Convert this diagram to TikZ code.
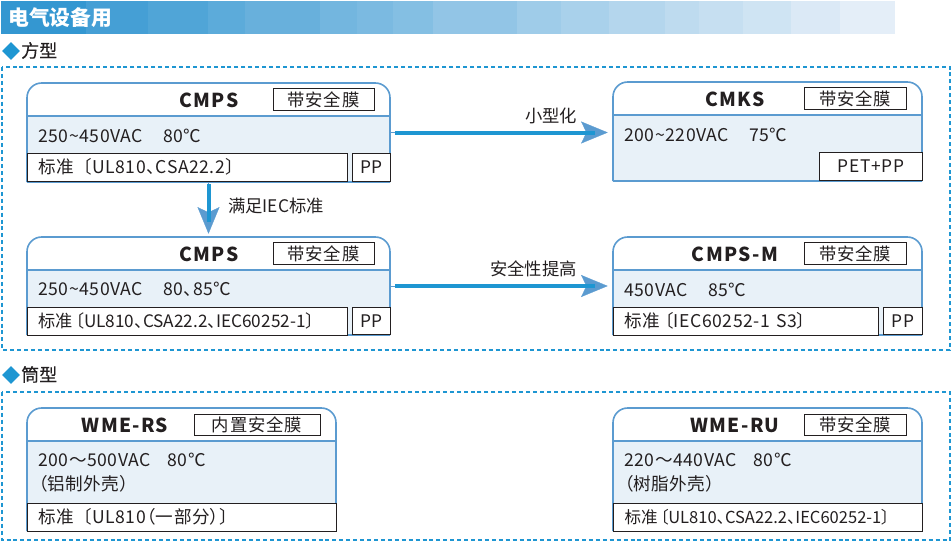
\documentclass[tikz,border=0pt]{standalone}
\usepackage{fontspec}
\setmainfont{Noto Sans CJK SC}
\newfontfamily\titlefont[LetterSpace=7]{Noto Sans CJK SC}
\newfontfamily\tagfont[LetterSpace=5]{Noto Sans CJK SC}
\newfontfamily\bodyfont[RawFeature=+palt,LetterSpace=3]{Noto Sans CJK SC}
\newfontfamily\tightfont[RawFeature=+palt]{Noto Sans CJK SC}
\newfontfamily\sectionfont[FakeBold=0.4]{Noto Sans CJK SC}
\usetikzlibrary{arrows.meta,positioning,fit,shapes.geometric}
\definecolor{bandblue}{HTML}{2A92CF}
\definecolor{bandpale}{HTML}{EAF1F9}
\definecolor{framecol}{HTML}{1E96D2}
\definecolor{cardcol}{HTML}{5B9BD0}
\definecolor{bodycol}{HTML}{E8F1F8}
\definecolor{inkcol}{HTML}{231F20}
\tikzstyle{frame} = [framecol, line width=1.1pt, dash pattern=on 3pt off 2.2pt]
\tikzstyle{cardfit} = [inner sep=0pt]
\tikzstyle{cardline} = [cardcol, line width=1.2pt]
\tikzstyle{sectionmark} = [diamond, fill=framecol, inner sep=0pt, minimum width=13.5pt, minimum height=13.5pt]
\tikzstyle{section} = [text=inkcol, font=\fontsize{13.5}{15}\sectionfont, anchor=west, inner sep=0pt]
\tikzstyle{model} = [text=inkcol, font=\fontsize{14.4}{16}\titlefont\bfseries, inner sep=0pt]
\tikzstyle{tagbox} = [draw=inkcol, fill=white, line width=0.75pt, text=inkcol, inner sep=0pt, minimum height=16pt, font=\fontsize{13}{15}\tagfont]
\tikzstyle{rating} = [text=inkcol, font=\fontsize{13.2}{18}\bodyfont, anchor=west, inner sep=0pt, align=left]
\tikzstyle{stdbox} = [draw=inkcol, fill=white, line width=0.75pt, text=inkcol, anchor=west, inner ysep=0pt, inner xsep=8.25pt, text height=11.5pt, text depth=2pt, minimum height=21pt, align=left, font=\fontsize{13.2}{15}\bodyfont]
\tikzstyle{matbox} = [draw=inkcol, fill=white, line width=0.75pt, text=inkcol, anchor=west, inner sep=0pt, minimum height=20.5pt, font=\fontsize{13}{15}\tagfont]
\tikzstyle{flowhead} = [-{Stealth[length=20pt, width=16.5pt, inset=4pt, cardcol]}, cardcol, line width=0.2pt]
\tikzstyle{flowline} = [framecol, line width=3pt]
\tikzstyle{flowlabel} = [text=inkcol, font=\fontsize{13}{15}\selectfont, inner sep=0pt]
\begin{document}
\begin{tikzpicture}[x=0.75pt, y=-0.75pt]

	\useasboundingbox (0,0) rectangle (952,543);

	\foreach \xa/\xb in {1/86,86/148,148/208,208/245,245/320,320/357,357/393,393/433,433/517,517/561,561/609,609/665,665/699,699/743,743/791,791/840,840/895}{
		\pgfmathtruncatemacro{\pct}{100*(1-0.5*(\xa+\xb)/895)}
		\fill[bandblue!\pct!bandpale] (\xa,1) rectangle (\xb,34);
	}
	\node[white, font=\fontsize{15.6}{17}\selectfont\bfseries, anchor=west, inner sep=0pt] (bandtitle) at (8,17.5) {电气设备用};

	\node[sectionmark] (markA) at (11,51) {};
	\node[section] (sectionA) at (21,50.5) {方型};
	\node[sectionmark] (markB) at (11,375) {};
	\node[section] (sectionB) at (21,374.5) {筒型};

	\draw[frame] (2,67) rectangle (950,350);
	\draw[frame] (2,392) rectangle (950,540);

	\foreach \cardname/\xa/\ya/\xb/\yb/\yc in {cmpsa/27/83/390/182/116, cmks/613/82/922/181/115, cmpsb/27/237/390/335/270, cmpsm/613/237/922/335/270, wmers/27/408/336/531/441, wmeru/613/408/922/531/441}{
		\node[cardfit, fit={(\xa,\ya) (\xb,\yb)}] (\cardname) {};
		\fill[bodycol] (\xa,\yc) rectangle (\xb,\yb);
		\draw[cardline, rounded corners=11pt] (\xa,\yb) -- (\xa,\ya) -- (\xb,\ya) -- (\xb,\yb);
		\draw[cardline] (\xa,\yb) -- (\xb,\yb);
		\draw[cardline] (\xa,\yc) -- (\xb,\yc);
	}

	\node[model] (cmpsaname) at (209,100.5) {CMPS};
	\node[tagbox, minimum width=75.75pt] (cmpsatag) at (323.5,99.5) {带安全膜};
	\node[rating] (cmpsarate) at (38,136) {250\textasciitilde 450VAC\hspace{1.15em}80℃};
	\node[stdbox, text width=223.5pt] (cmpsastd) at (27,167) {标准\hspace{.5em}〔UL810、CSA22.2〕};
	\node[matbox, minimum width=28.5pt] (cmpsamat) at (352,167.5) {PP};

	\node[model] (cmksname) at (735,99.5) {CMKS};
	\node[tagbox, minimum width=76.5pt] (cmkstag) at (855,98.5) {带安全膜};
	\node[rating] (cmksrate) at (624,135) {200\textasciitilde 220VAC\hspace{1.15em}75℃};
	\node[matbox, minimum width=77.25pt] (cmksmat) at (819,166.5) {PET+PP};

	\node[model] (cmpsbname) at (209,254.5) {CMPS};
	\node[tagbox, minimum width=75.75pt] (cmpsbtag) at (323.5,253.5) {带安全膜};
	\node[rating] (cmpsbrate) at (38,289.5) {250\textasciitilde 450VAC\hspace{1.15em}80、85℃};
	\node[stdbox, text width=223.5pt, font=\fontsize{12.9}{15}\tightfont] (cmpsbstd) at (27,321) {标准\hspace{.15em}〔UL810、CSA22.2、IEC60252-1〕};
	\node[matbox, minimum width=28.5pt] (cmpsbmat) at (352,321) {PP};

	\node[model] (cmpsmname) at (735,254.5) {CMPS-M};
	\node[tagbox, minimum width=76.5pt] (cmpsmtag) at (855,253.5) {带安全膜};
	\node[rating] (cmpsmrate) at (624,289.5) {450VAC\hspace{1.15em}85℃};
	\node[stdbox, text width=182.25pt] (cmpsmstd) at (613,321) {标准\hspace{.25em}〔IEC60252-1 S3〕};
	\node[matbox, minimum width=29.25pt] (cmpsmmat) at (883,321) {PP};

	\node[model] (wmersname) at (125,425.5) {WME-RS};
	\node[tagbox, minimum width=94.5pt] (wmerstag) at (257,425) {内置安全膜};
	\node[rating] (wmersrate) at (38,473) {200〜500VAC\hspace{.95em}80℃\\（铝制外壳）};
	\node[stdbox, text width=215.25pt] (wmersstd) at (27,517) {标准\hspace{.5em}〔UL810（一部分）〕};

	\node[model] (wmeruname) at (735,425.5) {WME-RU};
	\node[tagbox, minimum width=76.5pt] (wmerutag) at (855,425) {带安全膜};
	\node[rating] (wmerurate) at (624,473) {220〜440VAC\hspace{.95em}80℃\\（树脂外壳）};
	\node[stdbox, text width=215.25pt, font=\fontsize{12.4}{15}\tightfont] (wmerustd) at (613,517) {标准\hspace{.15em}〔UL810、CSA22.2、IEC60252-1〕};

	\draw[flowhead, shorten >=3.75pt] (cmpsa.east) -- (cmpsa.east -| cmks.west);
	\draw[flowline, shorten <=3.75pt, shorten >=13.5pt] (cmpsa.east) -- (cmpsa.east -| cmks.west);
	\draw[flowhead, shorten >=3.75pt] (cmpsb.east) -- (cmpsb.east -| cmpsm.west);
	\draw[flowline, shorten <=3.75pt, shorten >=13.5pt] (cmpsb.east) -- (cmpsb.east -| cmpsm.west);
	\draw[flowhead, shorten >=2.25pt] (cmpsa.south) -- (cmpsb.north);
	\draw[flowline, shorten <=1.5pt, shorten >=11.25pt] (cmpsa.south) -- (cmpsb.north);

	\node[flowlabel] (labelA) at (551,116) {小型化};
	\node[flowlabel] (labelB) at (533.5,269) {安全性提高};
	\node[flowlabel] (labelC) at (276,206) {满足IEC标准};

\end{tikzpicture}
\end{document}
